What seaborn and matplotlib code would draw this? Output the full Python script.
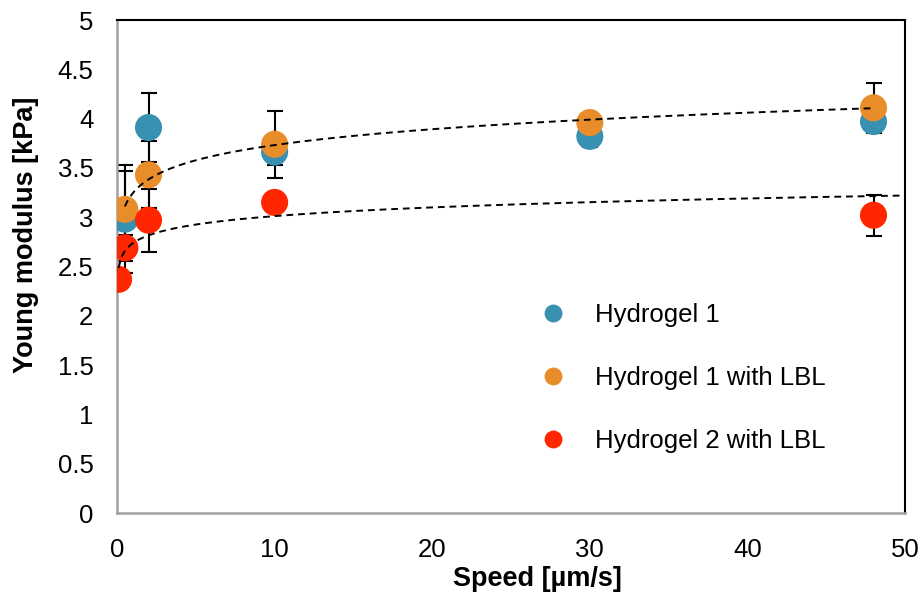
import numpy as np
import pandas as pd
import matplotlib
matplotlib.use("Agg")
import matplotlib.pyplot as plt
import seaborn as sns

# ---- data ----
speed_h1 = [0.5, 2, 10, 30, 48]
young_h1 = [2.98, 3.91, 3.66, 3.82, 3.97]
err_h1 = [0.55, 0.35, 0.13, 0.11, 0.12]

speed_h1l = [0.5, 2, 10, 30, 48]
young_h1l = [3.08, 3.43, 3.74, 3.96, 4.11]
err_h1l = [0.39, 0.34, 0.34, 0.05, 0.25]

speed_h2l = [0.1, 0.5, 2, 10, 48]
young_h2l = [2.37, 2.69, 2.97, 3.15, 3.02]
err_h2l = [0.08, 0.13, 0.32, 0.08, 0.21]

series_names = ["Hydrogel 1", "Hydrogel 1 with LBL", "Hydrogel 2 with LBL"]
colors = ["#3891B1", "#E98D2B", "#FF2600"]
x_ticks = [0, 10, 20, 30, 40, 50]
y_ticks = [0, 0.5, 1, 1.5, 2, 2.5, 3, 3.5, 4, 4.5, 5]
y_tick_labels = ["0", "0.5", "1", "1.5", "2", "2.5", "3", "3.5", "4", "4.5", "5"]

df = pd.DataFrame({
    "speed": speed_h1 + speed_h1l + speed_h2l,
    "young": young_h1 + young_h1l + young_h2l,
    "err": err_h1 + err_h1l + err_h2l,
    "series": [series_names[0]] * len(speed_h1) + [series_names[1]] * len(speed_h1l)
              + [series_names[2]] * len(speed_h2l),
})

sns.set_theme(style="white")
plt.rcParams["font.family"] = ["Liberation Sans", "DejaVu Sans"]

fig = plt.figure(figsize=(9.22, 5.92), dpi=100)
ax = fig.add_axes([0.1269, 0.1334, 0.9816 - 0.1269, 0.9662 - 0.1334])

# error bars
for name in series_names:
    d = df[df.series == name]
    ax.errorbar(d.speed, d.young, yerr=d.err, fmt="none", ecolor="black",
                elinewidth=1.5, capsize=6, capthick=1.5, zorder=2)

sns.scatterplot(data=df, x="speed", y="young", hue="series", hue_order=series_names,
                palette=colors, s=380, edgecolor="none", linewidth=0, ax=ax,
                zorder=3, legend=True)

# power-law trend lines fitted to the data (Excel-style)
def power_fit(x, y, xr):
    b, lna = np.polyfit(np.log(x), np.log(y), 1)
    xs = np.linspace(xr[0], xr[1], 300)
    return xs, np.exp(lna) * xs ** b

xs, ys = power_fit(np.array(speed_h1l), np.array(young_h1l), (min(speed_h1l), max(speed_h1l)))
ax.plot(xs, ys, ls=(0, (3.5, 2.5)), color="black", lw=1.4, zorder=4)
xs, ys = power_fit(np.array(speed_h2l), np.array(young_h2l), (min(speed_h2l), 50))
ax.plot(xs, ys, ls=(0, (3.5, 2.5)), color="black", lw=1.4, zorder=4)

ax.set_xlim(0, 50)
ax.set_ylim(0, 5)
ax.set_xticks(x_ticks)
ax.set_xticklabels([str(t) for t in x_ticks])
ax.set_yticks(y_ticks)
ax.set_yticklabels(y_tick_labels)
ax.tick_params(axis="both", labelsize=18.5, length=0, colors="black")
ax.tick_params(axis="y", pad=17)
ax.tick_params(axis="x", pad=18)
ax.set_xlabel("Speed [µm/s]", fontsize=19.5, fontweight="bold", color="black")
ax.set_ylabel("Young modulus [kPa]", fontsize=19.5, fontweight="bold", color="black")
ax.xaxis.set_label_coords(0.533, -0.108)
ax.yaxis.set_label_coords(-0.099, 0.564)

for side in ["left", "bottom"]:
    ax.spines[side].set_color("#A0A0A0")
    ax.spines[side].set_linewidth(1.8)
for side in ["top", "right"]:
    ax.spines[side].set_color("black")
    ax.spines[side].set_linewidth(1.5)
    ax.spines[side].set_visible(True)

leg = ax.legend(loc="upper left", bbox_to_anchor=(0.504, 0.452), frameon=False,
                fontsize=18.5, labelspacing=1.52, handletextpad=0.63, markerscale=0.66,
                borderpad=0, title=None)
for t in leg.get_texts():
    t.set_color("black")

fig.savefig("out.png", dpi=100)
